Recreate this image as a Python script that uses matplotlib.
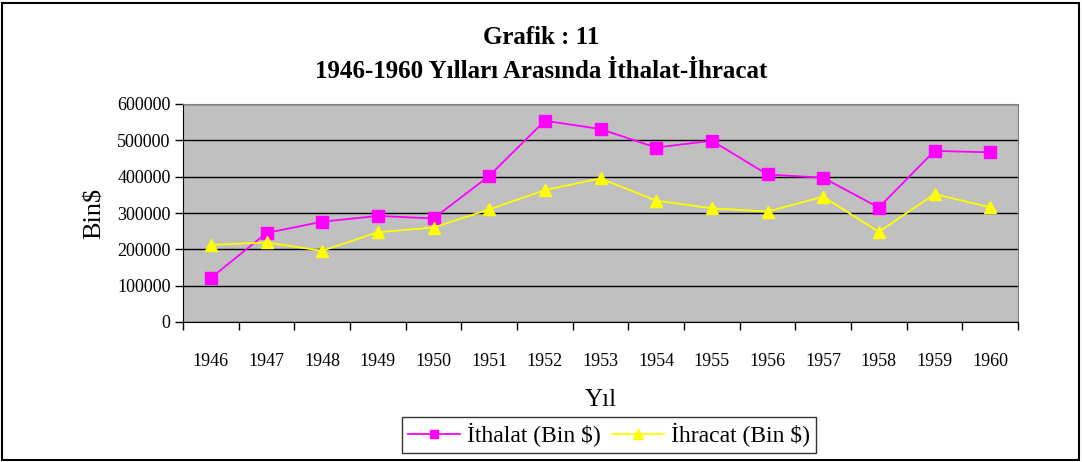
import numpy as np
import matplotlib
matplotlib.use("Agg")
import matplotlib.pyplot as plt
from matplotlib.patches import Rectangle

plt.rcParams["font.family"] = ["Liberation Serif", "DejaVu Serif"]

years = [str(y) for y in range(1946, 1961)]
ithalat = [121000, 245000, 276000, 292000, 285000, 402000, 554000, 531000,
           480000, 499000, 406000, 397000, 315000, 471000, 467000]
ihracat = [212000, 219000, 196000, 247000, 260000, 310000, 363000, 395000,
           334000, 313000, 304000, 345000, 248000, 352000, 316000]

fig = plt.figure(figsize=(10.82, 4.62), dpi=100)
ax = fig.add_axes([183 / 1082, 1 - 322 / 462, (1018 - 183) / 1082, (322 - 104) / 462])

x = np.arange(len(years))
ax.plot(x, ithalat, color="#FF00FF", marker="s", markersize=8, linewidth=1.3,
        label="İthalat (Bin $)", zorder=3)
ax.plot(x, ihracat, color="#FFFF00", marker="^", markersize=9, linewidth=1.3,
        label="İhracat (Bin $)", zorder=3)

ax.set_facecolor("#C0C0C0")
ax.set_xlim(-0.5, len(years) - 0.5)
ax.set_ylim(0, 600000)
ax.set_yticks(np.arange(0, 600001, 100000))
ax.yaxis.grid(True, color="black", linewidth=1)
ax.set_axisbelow(True)

ax.set_xticks(x)
ax.set_xticklabels(years)
ax.set_xticks(np.arange(-0.5, len(years), 1), minor=True)
ax.tick_params(axis="x", which="major", length=0, pad=22, labelsize=13)
ax.tick_params(axis="x", which="minor", length=6, width=1, direction="out")
ax.tick_params(axis="y", length=6, width=1, direction="out", labelsize=13, pad=3)

for side in ("top", "right"):
    ax.spines[side].set_color("#808080")
for side in ("left", "bottom"):
    ax.spines[side].set_color("black")

ax.set_ylabel("Bin$", fontsize=19, labelpad=8)
ax.set_xlabel("Yıl", fontsize=18, labelpad=14)

fig.text(0.5, 1 - 38 / 462, "Grafik : 11", ha="center", va="center",
         fontsize=18, fontweight="bold")
fig.text(0.5, 1 - 71 / 462, "1946-1960 Yılları Arasında İthalat-İhracat",
         ha="center", va="center", fontsize=18, fontweight="bold")

leg = fig.legend(loc="center", bbox_to_anchor=(609 / 1082, 1 - 435 / 462), ncol=2,
                 fontsize=17, frameon=True, fancybox=False, edgecolor="black",
                 handlelength=2.2, handletextpad=0.3, columnspacing=0.5,
                 borderpad=0.25, markerscale=0.8)
leg.get_frame().set_linewidth(1)

fig.patches.append(Rectangle((2 / 1082, 2 / 462), 1 - 5 / 1082, 1 - 5 / 462,
                             transform=fig.transFigure, fill=False,
                             edgecolor="black", linewidth=1.5))

fig.savefig("out.png", dpi=100)
